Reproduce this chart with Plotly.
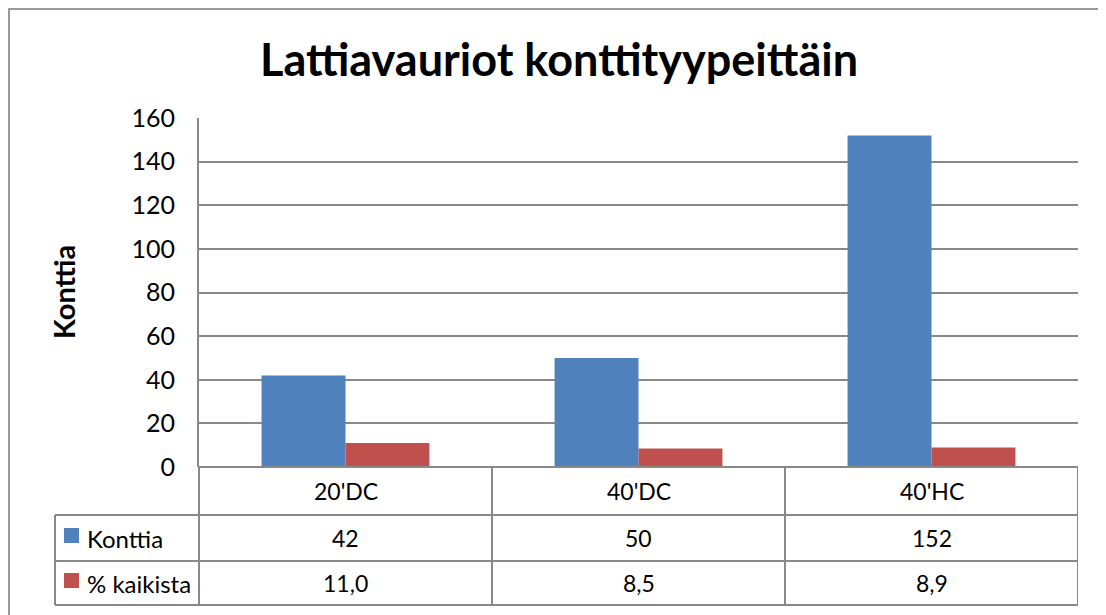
import plotly.graph_objects as go

# data
categories = ["20'DC", "40'DC", "40'HC"]
konttia = [42, 50, 152]
pct_kaikista = [11.0, 8.5, 8.9]
series_names = ["Konttia", "% kaikista"]
title_text = "Lattiavauriot konttityypeittäin"
y_title = "Konttia"

# page body has an 8px margin, so the figure is drawn 8px in from the corner
OFF = 8
W, H = 1106 - OFF, 615 - OFF
BLUE = "#4F81BD"
RED = "#C0504D"
GRID = "#898989"
FONT = "Lato"


def px_x(x):
    return (x - OFF) / W


def px_y(y):
    return 1 - (y - OFF) / H


fig = go.Figure()
fig.add_trace(go.Bar(x=categories, y=konttia, name=series_names[0],
                     marker=dict(color=BLUE, line=dict(width=0))))
fig.add_trace(go.Bar(x=categories, y=pct_kaikista, name=series_names[1],
                     marker=dict(color=RED, line=dict(width=0))))

fig.update_layout(
    width=W, height=H,
    margin=dict(l=0, r=0, t=0, b=0, autoexpand=False),
    paper_bgcolor="white", plot_bgcolor="white",
    barmode="group", bargap=0.427, bargroupgap=0,
    showlegend=False,
    font=dict(family=FONT, size=23, color="black"),
)
fig.update_xaxes(domain=[px_x(199), px_x(1078)], range=[-0.5, 2.5],
                 showticklabels=False, showgrid=False, zeroline=False,
                 showline=False, fixedrange=True, automargin=False)
fig.update_yaxes(domain=[px_y(467), px_y(118)], range=[0, 160], dtick=20,
                 showgrid=True, gridcolor=GRID, gridwidth=2,
                 zeroline=False, showline=True, linecolor=GRID, linewidth=2,
                 ticks="", ticklabelstandoff=17, automargin=False,
                 tickfont=dict(family=FONT, size=25, color="black"))

line = dict(color=GRID, width=2)
# outer chart border (top edge kept just inside the figure)
fig.add_shape(type="rect", xref="paper", yref="paper",
              x0=px_x(9), x1=px_x(1130), y0=px_y(640), y1=px_y(9),
              line=dict(color="#9a9a9a", width=2), fillcolor="rgba(0,0,0,0)")

# data table grid
for y, x0 in [(467, 199), (515, 55), (561, 55), (605, 55)]:
    fig.add_shape(type="line", xref="paper", yref="paper",
                  x0=px_x(x0), x1=px_x(1078), y0=px_y(y), y1=px_y(y), line=line)
fig.add_shape(type="line", xref="paper", yref="paper",
              x0=px_x(55), x1=px_x(55), y0=px_y(515), y1=px_y(605), line=line)
fig.add_shape(type="line", xref="paper", yref="paper",
              x0=px_x(199), x1=px_x(199), y0=px_y(467), y1=px_y(605), line=line)
for i in range(1, len(categories) + 1):
    fig.add_shape(type="line", xref="x", yref="paper",
                  x0=i - 0.5, x1=i - 0.5, y0=px_y(467), y1=px_y(605), line=line)

# table text
row_y = [491, 538, 583]
cell = dict(showarrow=False, xanchor="center", yanchor="middle")
for i, cat in enumerate(categories):
    fig.add_annotation(x=i, y=px_y(row_y[0]), xref="x", yref="paper",
                       text=cat, **cell)
    fig.add_annotation(x=i, y=px_y(row_y[1]), xref="x", yref="paper",
                       text=str(konttia[i]), **cell)
    fig.add_annotation(x=i, y=px_y(row_y[2]), xref="x", yref="paper",
                       text=f"{pct_kaikista[i]:.1f}".replace(".", ","), **cell)

# legend keys in the table
for name, color, y in [(series_names[0], BLUE, row_y[1]), (series_names[1], RED, row_y[2])]:
    fig.add_shape(type="rect", xref="paper", yref="paper",
                  x0=px_x(64), x1=px_x(79), y0=px_y(y + 5), y1=px_y(y - 10),
                  fillcolor=color, line=dict(width=0))
    fig.add_annotation(x=px_x(85), y=px_y(y), xref="paper", yref="paper",
                       text=name, showarrow=False, xanchor="left", yanchor="middle",
                       font=dict(size=24))

# titles
fig.add_annotation(x=px_x(559), y=px_y(59), xref="paper", yref="paper",
                   text=f"<b>{title_text}</b>", showarrow=False,
                   xanchor="center", yanchor="middle",
                   font=dict(family=FONT, size=45, color="black"))
fig.add_annotation(x=px_x(63), y=px_y(292), xref="paper", yref="paper",
                   text=f"<b>{y_title}</b>", showarrow=False, textangle=-90,
                   xanchor="center", yanchor="middle",
                   font=dict(family=FONT, size=29, color="black"))

fig.write_html("out.html")
